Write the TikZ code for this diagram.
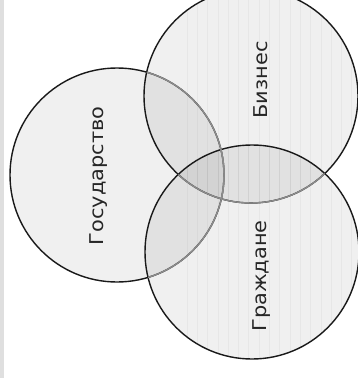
\documentclass[tikz,border=0pt]{standalone}
\usepackage{fontspec}
\newfontfamily\vennfont[FakeStretch=1.1]{DejaVu Sans}
\tikzset{
  vennfill/.style={fill=black,fill opacity=0.06},
  vennline/.style={line width=1.4pt,draw=black!90},
  hiddenline/.style={line width=1.4pt,draw=black!45},
  stripe/.style={draw=black,opacity=0.035,line width=0.8pt},
  vennlabel/.style={rotate=90,anchor=base,inner sep=0pt,text=black!85,
    font=\vennfont\fontsize{19}{22}\selectfont},
}
\begin{document}
\begin{tikzpicture}[x=1pt,y=-1pt]
  % 画布
  \useasboundingbox (0,0) rectangle (357,378);
  \fill[white] (0,0) rectangle (357,378);
  \fill[gray!25] (0,0) rectangle (4,378);
  % 圆心
  \coordinate (gov) at (117,175);
  \coordinate (biz) at (251,96);
  \coordinate (cit) at (252,252);
  % 填充
  \foreach \c in {gov,biz,cit}
    \path[vennfill] (\c) circle[radius=107pt];
  % 竖条纹
  \foreach \c in {biz,cit}{
    \begin{scope}
      \clip (\c) circle[radius=107pt];
      \foreach \x in {187,197.3,...,357}
        \draw[stripe] (\x,0) -- (\x,378);
    \end{scope}
  }
  % 边线
  \foreach \c in {gov,biz,cit}
    \draw[vennline] (\c) circle[radius=107pt];
  % 被覆盖的边线变灰
  \begin{scope}
    \clip (biz) circle[radius=107pt];
    \draw[hiddenline] (gov) circle[radius=107pt];
  \end{scope}
  \begin{scope}
    \clip (cit) circle[radius=107pt];
    \draw[hiddenline] (gov) circle[radius=107pt];
    \draw[hiddenline] (biz) circle[radius=107pt];
  \end{scope}
  % 文字
  \node[vennlabel] (govlabel) at (103,176) {Государство};
  \node[vennlabel] (bizlabel) at (267,80) {Бизнес};
  \node[vennlabel] (citlabel) at (266,276) {Граждане};
\end{tikzpicture}
\end{document}
